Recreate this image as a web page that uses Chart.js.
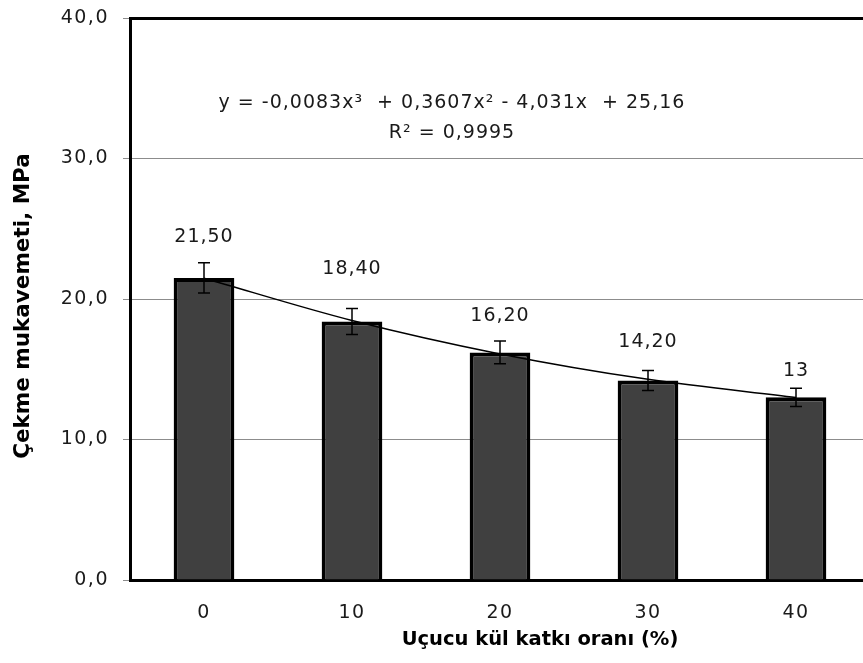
<!DOCTYPE html>
<html>
<head>
<meta charset="utf-8">
<script src="https://cdn.jsdelivr.net/npm/chart.js@4"></script>
<style>
  html, body { margin: 0; padding: 0; background: #fff; overflow: hidden; }
  #wrap { width: 872px; height: 663px; }
</style>
</head>
<body>
<div id="wrap"><canvas id="myChart" width="872" height="663"></canvas></div>
<script>
var labels = ["0", "10", "20", "30", "40"];
var values = [21.5, 18.4, 16.2, 14.2, 13];
var valueLabels = ["21,50", "18,40", "16,20", "14,20", "13"];
var errors = [1.08, 0.92, 0.81, 0.71, 0.65];
var trend = [21.48, 18.47, 16.09, 14.28, 12.99];
var equation = ["y = -0,0083x\u00B3  + 0,3607x\u00B2 - 4,031x  + 25,16", "R\u00B2 = 0,9995"];
var xTitle = "Uçucu kül katkı oranı (%)";
var yTitle = "Çekme mukavemeti, MPa";

Chart.defaults.font.family = "'DejaVu Sans', sans-serif";

// error bars, value labels, trendline equation and axis titles
var extras = {
    id: "extras",
    beforeDraw: function(chart) {
        chart.ctx.letterSpacing = "1.5px";
    },
    afterDatasetsDraw: function(chart, args, opts) {
        var ctx = chart.ctx;
        var x = chart.scales.x, y = chart.scales.y;
        ctx.save();
        ctx.strokeStyle = "#000";
        ctx.lineWidth = 1.5;
        for (var i = 0; i < values.length; i++) {
            var px = x.getPixelForValue(i);
            var top = y.getPixelForValue(values[i] + errors[i]);
            var bot = y.getPixelForValue(values[i] - errors[i]);
            ctx.beginPath();
            ctx.moveTo(px, top); ctx.lineTo(px, bot);
            ctx.moveTo(px - 6, top); ctx.lineTo(px + 6, top);
            ctx.moveTo(px - 6, bot); ctx.lineTo(px + 6, bot);
            ctx.stroke();
        }
        ctx.fillStyle = "#1a1a1a";
        ctx.letterSpacing = "1px";
        ctx.font = "19px 'DejaVu Sans'";
        ctx.textAlign = "center";
        ctx.textBaseline = "middle";
        for (var j = 0; j < values.length; j++) {
            var lx = x.getPixelForValue(j);
            var ly = y.getPixelForValue(values[j] + errors[j]) - opts.lift[j];
            ctx.fillText(valueLabels[j], lx, ly);
        }
        var a = chart.chartArea;
        ctx.fillText(equation[0], a.left + opts.eqX, a.top + opts.eqY);
        ctx.fillText(equation[1], a.left + opts.eqX, a.top + opts.eqY + 30);

        ctx.letterSpacing = "0px";
        ctx.fillStyle = "#000";
        ctx.font = "bold 19.5px 'DejaVu Sans'";
        ctx.fillText(xTitle, opts.xTitleX, opts.xTitleY);
        ctx.translate(opts.yTitleX, opts.yTitleY);
        ctx.rotate(-Math.PI / 2);
        ctx.font = "bold 21.5px 'DejaVu Sans'";
        ctx.fillText(yTitle, 0, 0);
        ctx.restore();
    }
};

var ctx = document.getElementById("myChart");
var myChart = new Chart(ctx, {
    type: "bar",
    data: {
        labels: labels,
        datasets: [{
            label: "trend",
            type: "line",
            data: trend,
            borderColor: "#000",
            borderWidth: 1.5,
            pointRadius: 0,
            fill: false,
            cubicInterpolationMode: "monotone"
        }, {
            label: "Çekme mukavemeti",
            data: values,
            backgroundColor: "#404040",
            borderColor: "#000",
            borderWidth: 4,
            categoryPercentage: 1,
            barPercentage: 0.41
        }]
    },
    options: {
        responsive: false,
        animation: false,
        layout: { padding: { top: 18, right: 2, left: 0, bottom: 0 } },
        plugins: {
            legend: { display: false },
            tooltip: { enabled: false },
            extras: {
                lift: [26, 39, 25, 28, 17],
                eqX: 322, eqY: 85,
                xTitleX: 540, xTitleY: 640,
                yTitleX: 23, yTitleY: 306
            }
        },
        scales: {
            x: {
                grid: { display: false, drawTicks: false },
                border: { color: "#000", width: 3 },
                ticks: { color: "#1a1a1a", font: { size: 19 }, padding: 22 },
                afterFit: function(s) { s.height = 83; }
            },
            y: {
                min: 0,
                max: 40,
                ticks: {
                    stepSize: 10,
                    color: "#1a1a1a",
                    font: { size: 19 },
                    padding: 14,
                    callback: function(v) { return v.toFixed(1).replace(".", ","); }
                },
                grid: {
                    color: function(c) { return c.tick && c.tick.value === 40 ? "#000" : "#8c8c8c"; },
                    lineWidth: function(c) { return c.tick && c.tick.value === 40 ? 3 : 1; },
                    tickColor: "#8c8c8c",
                    tickWidth: 1,
                    tickLength: 7
                },
                border: { color: "#000", width: 3 },
                afterFit: function(s) {
                    s.width = 130;
                    s.paddingTop = 0;
                    s.paddingBottom = 0;
                }
            }
        }
    },
    plugins: [extras]
});
</script>
</body>
</html>
